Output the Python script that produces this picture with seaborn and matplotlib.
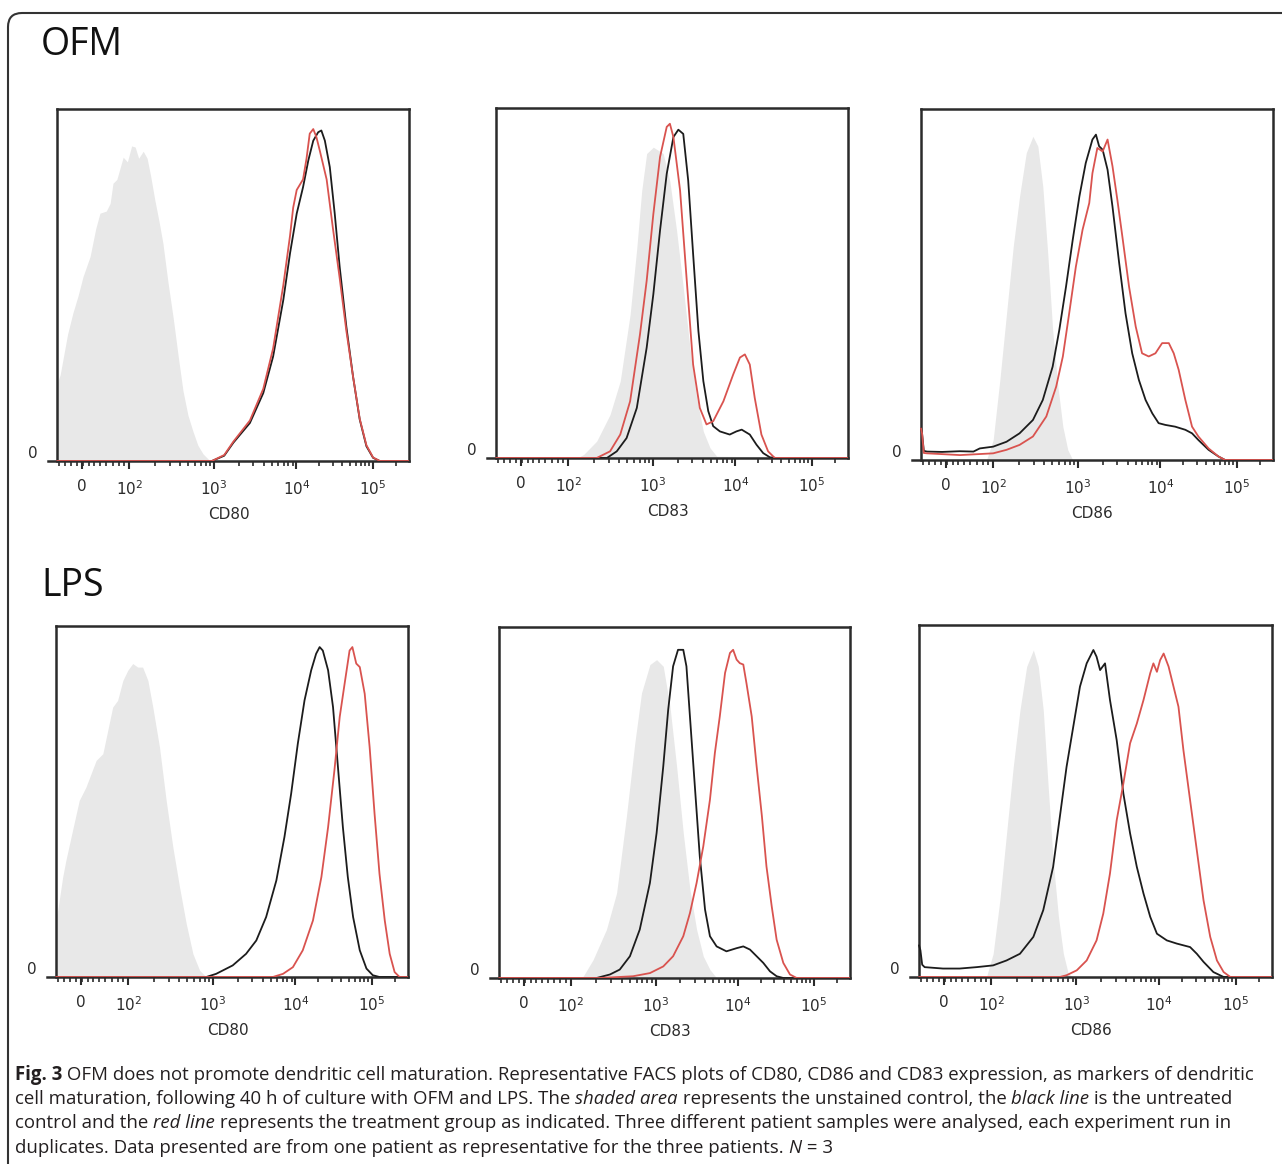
import matplotlib
matplotlib.use("Agg")
import matplotlib.pyplot as plt
import seaborn as sns
from matplotlib.patches import FancyBboxPatch

sns.set_style("white")
plt.rcParams['font.family'] = ['DejaVu Sans']

# ---- data: x = display channel (0-1000 across the plot frame), y = % of max count ----
# OFM / CD80
ofm_cd80_shade_x = [0, 9, 30, 45, 60, 74, 94, 110, 122, 140, 151, 159, 170, 188, 200, 212, 222, 232, 245, 256, 266, 278, 290, 301, 315, 330, 344, 358, 372, 386, 400, 415, 435, 1000]
ofm_cd80_shade_y = [22, 24.5, 36, 42, 47, 52.4, 58.1, 66, 70.4, 71, 73.2, 78.9, 80, 86.3, 85, 89.5, 89.2, 86, 88, 86, 81, 74.1, 68, 61.8, 51, 40.7, 30, 19.9, 13, 8.5, 4.5, 2, 0, 0]
ofm_cd80_ctrl_x = [0, 440, 475, 501, 548, 586, 614, 643, 662, 681, 699, 714, 728, 742, 751, 761, 775, 789, 803, 822, 841, 860, 879, 898, 917, 1000]
ofm_cd80_ctrl_y = [0, 0, 1.5, 5.2, 10.8, 19.3, 29.7, 45.8, 59, 70.3, 77.8, 85.4, 91, 93.4, 93.9, 91, 83.5, 70.3, 55.2, 38.2, 24, 11.8, 4.2, 0.9, 0, 0]
ofm_cd80_treat_x = [0, 440, 475, 501, 548, 586, 614, 643, 662, 671, 681, 690, 699, 709, 718, 728, 737, 747, 766, 784, 803, 822, 841, 860, 879, 898, 917, 1000]
ofm_cd80_treat_y = [0, 0, 1.7, 5.5, 11.5, 20.5, 32, 50, 64, 72, 77, 78.5, 80, 86, 93, 94.3, 92, 88, 80, 66, 52, 37, 24, 12, 4.5, 1, 0, 0]

# OFM / CD83
ofm_cd83_shade_x = [0, 230, 249, 286, 324, 353, 381, 400, 414, 428, 447, 475, 494, 513, 532, 551, 570, 589, 608, 627, 1000]
ofm_cd83_shade_y = [0, 0, 1, 4.8, 12.4, 22, 41, 60, 76.4, 87, 88.8, 87, 79, 65, 48.7, 31.5, 17.2, 7.6, 2.9, 0.5, 0]
ofm_cd83_ctrl_x = [0, 315, 343, 371, 400, 428, 447, 466, 485, 504, 518, 532, 546, 560, 575, 589, 603, 617, 636, 664, 683, 698, 721, 740, 759, 778, 797, 1000]
ofm_cd83_ctrl_y = [0, 0, 1.9, 5.7, 14.3, 31.5, 46.8, 65, 81.2, 91.7, 93.8, 92.6, 79.3, 58.3, 36.3, 22, 13.4, 9.1, 7.6, 6.7, 7.6, 8.1, 6.7, 3.8, 1.4, 0.2, 0, 0]
ofm_cd83_treat_x = [0, 286, 324, 353, 381, 409, 428, 447, 466, 485, 494, 504, 523, 542, 560, 579, 598, 617, 646, 674, 693, 707, 721, 735, 754, 773, 792, 1000]
ofm_cd83_treat_y = [0, 0, 1.9, 6.7, 16.2, 35.3, 50.6, 69.7, 86, 94.6, 95.5, 91.7, 76.4, 50.6, 26.7, 14.3, 9.6, 10.5, 16.2, 23.9, 28.7, 29.6, 26.7, 17.2, 6.7, 1.9, 0, 0]

# OFM / CD86
ofm_cd86_shade_x = [0, 186, 205, 224, 243, 262, 280, 299, 318, 332, 346, 360, 374, 389, 403, 417, 431, 1000]
ofm_cd86_shade_y = [0, 0, 5.7, 22.8, 41.8, 60.8, 75.1, 87.5, 92.2, 89.4, 77.9, 58.9, 37.1, 20.9, 9.5, 2.9, 0, 0]
ofm_cd86_ctrl_x = [0, 3, 8, 17, 60, 110, 149, 167, 205, 243, 280, 318, 346, 374, 393, 412, 431, 450, 468, 487, 497, 506, 516, 530, 544, 563, 581, 600, 619, 638, 657, 675, 694, 722, 751, 770, 788, 817, 845, 864, 1000]
ofm_cd86_ctrl_y = [9, 7.6, 2.6, 2.4, 2.3, 2.5, 2.4, 3.3, 3.8, 5.2, 7.6, 11.4, 17.1, 26.6, 37.1, 49.4, 62.7, 75.1, 84.6, 91.3, 92.7, 89.4, 88.4, 82.7, 72.2, 56.1, 41.8, 30.4, 22.8, 17.1, 13.3, 10.5, 10, 9.5, 8.6, 7.6, 5.7, 2.9, 1, 0, 0]
ofm_cd86_treat_x = [0, 3, 8, 17, 111, 205, 243, 280, 318, 356, 384, 403, 421, 440, 459, 478, 487, 501, 516, 530, 544, 558, 572, 591, 610, 628, 647, 666, 685, 704, 718, 732, 751, 770, 788, 817, 845, 864, 1000]
ofm_cd86_treat_y = [9, 7.6, 2, 1.9, 1.4, 1.9, 2.9, 4.3, 6.7, 12.4, 20.9, 29.5, 41.8, 55.1, 65.6, 73.2, 81.7, 88.9, 87.9, 91.3, 83.7, 74, 63.7, 49.4, 38, 30.4, 29.5, 30.4, 33.3, 33.3, 30.4, 25.7, 17.1, 9.5, 6.7, 3.3, 1, 0, 0]

# LPS / CD80
lps_cd80_shade_x = [0, 5, 19, 28, 47, 66, 85, 114, 133, 161, 175, 190, 204, 218, 232, 246, 261, 275, 294, 313, 332, 351, 370, 389, 408, 427, 1000]
lps_cd80_shade_y = [17, 19, 28.5, 33.2, 41.8, 50.3, 54.1, 61.7, 63.6, 76.9, 78.8, 84.5, 87.4, 89.3, 88.3, 88.3, 84.5, 76.9, 65.5, 50.3, 37, 25.6, 15.2, 6.6, 1.9, 0, 0]
lps_cd80_ctrl_x = [0, 427, 455, 502, 540, 569, 597, 626, 649, 668, 687, 706, 725, 739, 749, 758, 773, 787, 801, 815, 829, 844, 863, 882, 900, 919, 1000]
lps_cd80_ctrl_y = [0, 0, 0.9, 3.3, 6.6, 10.4, 17.1, 27.5, 39.9, 52.2, 66.5, 78.8, 87.4, 92.1, 94, 93, 87.4, 76.9, 59.8, 42.7, 28.5, 17.1, 7.6, 2.4, 0.5, 0, 0]
lps_cd80_treat_x = [0, 616, 645, 673, 701, 730, 754, 773, 791, 806, 820, 834, 842, 853, 863, 877, 891, 905, 919, 934, 948, 962, 976, 1000]
lps_cd80_treat_y = [0, 0, 0.9, 2.8, 7.6, 16.1, 28.5, 42.7, 58.9, 74.1, 83.6, 93, 94, 89.3, 88.3, 80.7, 65.5, 46.5, 29.4, 16.1, 6.6, 1.4, 0, 0]

# LPS / CD83
lps_cd83_shade_x = [0, 220, 240, 268, 306, 335, 363, 387, 406, 430, 449, 468, 487, 506, 525, 544, 563, 582, 601, 620, 1000]
lps_cd83_shade_y = [0, 0, 0.5, 5.2, 13.8, 24.2, 46.1, 67, 81.2, 89.3, 90.7, 88.8, 77.4, 60.3, 41.3, 25.2, 13.8, 6.2, 2.4, 0, 0]
lps_cd83_ctrl_x = [0, 278, 316, 344, 373, 401, 430, 449, 468, 482, 496, 510, 525, 534, 544, 558, 572, 587, 601, 620, 648, 677, 696, 715, 734, 753, 772, 791, 810, 1000]
lps_cd83_ctrl_y = [0, 0, 1, 2.4, 6.2, 13.8, 27.1, 41.3, 60.3, 76.4, 88.8, 93.5, 93.5, 88.8, 74.5, 54.6, 34.7, 19.5, 11.9, 9, 7.6, 8.5, 9, 8.1, 6.2, 4.3, 1.9, 0.5, 0, 0]
lps_cd83_treat_x = [0, 287, 382, 430, 468, 496, 525, 544, 563, 582, 601, 615, 629, 644, 658, 667, 677, 686, 696, 705, 720, 734, 749, 762, 777, 791, 810, 829, 848, 1000]
lps_cd83_treat_y = [0, 0, 0.5, 1.4, 3.3, 6.2, 11.9, 18.5, 27.1, 37.5, 50.8, 64.1, 74.5, 86.9, 92.6, 93.5, 90.7, 89.7, 89.3, 84, 74.5, 60.3, 46.1, 31.8, 20.4, 10.9, 4.3, 1, 0, 0]

# LPS / CD86
lps_cd86_shade_x = [0, 191, 210, 229, 248, 267, 286, 305, 324, 338, 352, 366, 380, 395, 409, 423, 437, 1000]
lps_cd86_shade_y = [0, 0, 6.6, 21.8, 40.8, 59.7, 75.8, 88.2, 92.9, 88.2, 75.8, 54, 33.2, 17.1, 6.6, 0.9, 0, 0]
lps_cd86_ctrl_x = [0, 4, 9, 16, 68, 115, 163, 210, 248, 286, 324, 352, 380, 399, 418, 437, 456, 475, 494, 503, 513, 527, 541, 560, 579, 598, 617, 636, 655, 674, 702, 730, 768, 787, 806, 834, 863, 1000]
lps_cd86_ctrl_y = [9, 7.6, 3.5, 2.8, 2.4, 2.4, 2.8, 3.3, 4.7, 6.6, 11.4, 19, 31.3, 45.5, 59.7, 71.1, 82.5, 89.1, 92.9, 91, 87.2, 89.1, 78.7, 67.3, 52.1, 40.8, 31.3, 23.7, 17.1, 12.3, 10.4, 9.5, 8.5, 6.6, 4.3, 1.4, 0, 0]
lps_cd86_treat_x = [0, 399, 418, 447, 475, 503, 522, 541, 560, 579, 598, 617, 636, 655, 664, 674, 683, 693, 707, 721, 735, 749, 768, 787, 806, 825, 844, 863, 882, 1000]
lps_cd86_treat_y = [0, 0, 0.5, 1.9, 4.7, 10.4, 18, 29.4, 44.5, 55, 66.4, 72, 78.7, 86.3, 89.1, 86.7, 90, 91.9, 88.2, 82.5, 76.8, 64.5, 50.2, 36, 21.8, 11.4, 4.7, 1.4, 0, 0]

markers = ["CD80", "CD83", "CD86"]
row_titles = ["OFM", "LPS"]
tick_labels = ["0", "$10^2$", "$10^3$", "$10^4$", "$10^5$"]
tick_pos = [70, 205, 446, 680, 897]
lin_minor = [5, 22, 40, 58, 75, 90, 105, 122, 140, 158, 175, 190]

panels = [
    [(ofm_cd80_shade_x, ofm_cd80_shade_y, ofm_cd80_ctrl_x, ofm_cd80_ctrl_y, ofm_cd80_treat_x, ofm_cd80_treat_y),
     (ofm_cd83_shade_x, ofm_cd83_shade_y, ofm_cd83_ctrl_x, ofm_cd83_ctrl_y, ofm_cd83_treat_x, ofm_cd83_treat_y),
     (ofm_cd86_shade_x, ofm_cd86_shade_y, ofm_cd86_ctrl_x, ofm_cd86_ctrl_y, ofm_cd86_treat_x, ofm_cd86_treat_y)],
    [(lps_cd80_shade_x, lps_cd80_shade_y, lps_cd80_ctrl_x, lps_cd80_ctrl_y, lps_cd80_treat_x, lps_cd80_treat_y),
     (lps_cd83_shade_x, lps_cd83_shade_y, lps_cd83_ctrl_x, lps_cd83_ctrl_y, lps_cd83_treat_x, lps_cd83_treat_y),
     (lps_cd86_shade_x, lps_cd86_shade_y, lps_cd86_ctrl_x, lps_cd86_ctrl_y, lps_cd86_treat_x, lps_cd86_treat_y)],
]

# frame boxes in pixels: left, top, right, bottom
boxes = [
    [(57, 109, 409, 461), (496, 108, 848, 458), (921, 109, 1273, 460)],
    [(56, 626, 408, 977), (499, 627, 850, 978), (919, 625, 1272, 977)],
]

W, H = 1282, 1164
fig = plt.figure(figsize=(W / 100, H / 100), dpi=100)

# minor ticks for the log part of the axis
log_frac = [0.30103, 0.4771, 0.6021, 0.699, 0.7782, 0.8451, 0.9031, 0.9542]
log_minor = []
for i in range(1, 4):
    a, b = tick_pos[i], tick_pos[i + 1]
    log_minor += [a + (b - a) * f for f in log_frac]
log_minor.append(tick_pos[4] + (tick_pos[4] - tick_pos[3]) * log_frac[0])

frame_col = "#2b2b2b"
for r in range(2):
    for c in range(3):
        L, T, R, B = boxes[r][c]
        ext = 9
        ax = fig.add_axes([(L - ext) / W, 1 - B / H, (R - L + ext) / W, (B - T) / H])
        sx, sy, kx, ky, tx, ty = panels[r][c]
        ax.fill_between(sx, sy, 0, color="#e8e8e8", lw=0, zorder=1)
        sns.lineplot(x=kx, y=ky, ax=ax, color="#1c1c1c", lw=1.3, sort=False, estimator=None, zorder=3)
        sns.lineplot(x=tx, y=ty, ax=ax, color="#d9534f", lw=1.3, sort=False, estimator=None, zorder=4)
        ax.set_xlim(-ext / (R - L) * 1000, 1000)
        ax.set_ylim(0, 100)
        ax.spines['left'].set_position(('data', 0))
        ax.spines['top'].set_bounds(0, 1000)
        for s in ax.spines.values():
            s.set_color(frame_col)
            s.set_linewidth(1.8)
            s.set_visible(True)
        ax.set_xticks(tick_pos)
        ax.set_xticklabels(tick_labels)
        ax.set_xticks(lin_minor + log_minor, minor=True)
        ax.tick_params(axis='x', which='major', direction='out', length=6, width=1.5,
                       colors=frame_col, labelsize=11, pad=7, bottom=True)
        ax.tick_params(axis='x', which='minor', direction='out', length=3.5, width=1.2,
                       colors=frame_col, bottom=True)
        ax.set_yticks([0])
        ax.set_yticklabels(["0"], va='bottom')
        ax.tick_params(axis='y', length=0, labelsize=11, pad=14, colors=frame_col, left=True)
        ax.set_xlabel(markers[c], fontsize=11, labelpad=7, color=frame_col)
        ax.set_ylabel("")
        ax.set_facecolor("white")

# row titles
fig.text(41 / W, 1 - 45 / H, row_titles[0], fontsize=27, va='center', ha='left',
         family=['Open Sans', 'DejaVu Sans'], color="#111")
fig.text(41 / W, 1 - 586 / H, row_titles[1], fontsize=27, va='center', ha='left',
         family=['Open Sans', 'DejaVu Sans'], color="#111")

# outer panel border (top + left with a rounded corner)
border = FancyBboxPatch((8, -40), 1400, H - 13 + 40, boxstyle="round,pad=0,rounding_size=14",
                        transform=None, fill=False, ec="#333", lw=1.5, figure=fig)
fig.patches.append(border)

# caption
caption = [
    [("Fig. 3", 'bold', 'normal'),
     (" OFM does not promote dendritic cell maturation. Representative FACS plots of CD80, CD86 and CD83 expression, as markers of dendritic", 'normal', 'normal')],
    [("cell maturation, following 40 h of culture with OFM and LPS. The ", 'normal', 'normal'),
     ("shaded area", 'normal', 'italic'),
     (" represents the unstained control, the ", 'normal', 'normal'),
     ("black line", 'normal', 'italic'),
     (" is the untreated", 'normal', 'normal')],
    [("control and the ", 'normal', 'normal'),
     ("red line", 'normal', 'italic'),
     (" represents the treatment group as indicated. Three different patient samples were analysed, each experiment run in", 'normal', 'normal')],
    [("duplicates. Data presented are from one patient as representative for the three patients. ", 'normal', 'normal'),
     ("N", 'normal', 'italic'),
     (" = 3", 'normal', 'normal')],
]
line_y = [1075, 1099, 1123, 1148]
renderer = fig.canvas.get_renderer()
for segs, yy in zip(caption, line_y):
    x = 15
    for txt, wt, st in segs:
        t = fig.text(x / W, 1 - yy / H, txt, fontsize=13.4, fontweight=wt, fontstyle=st,
                     va='center', ha='left', color="#231f20", family=['Open Sans', 'DejaVu Sans'])
        x += t.get_window_extent(renderer).width

fig.savefig("out.png", dpi=100)
